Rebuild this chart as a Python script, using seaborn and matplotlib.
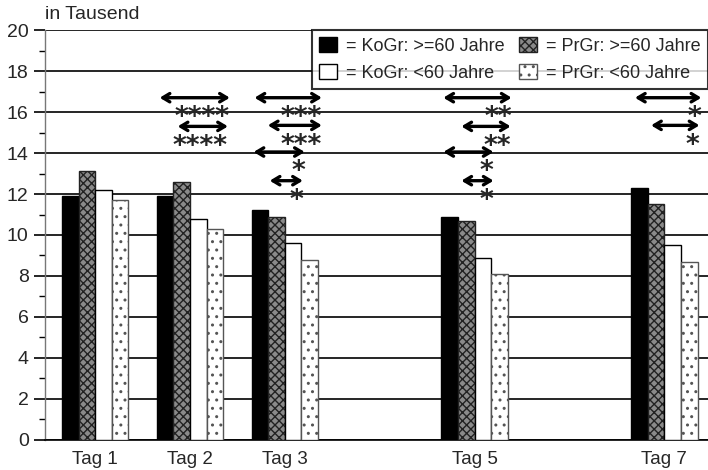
import pandas as pd
import seaborn as sns
import matplotlib.pyplot as plt
from matplotlib.patches import Patch

# Werte (in Tausend)
tage = [1, 2, 3, 5, 7]
tag_labels = ['Tag 1', 'Tag 2', 'Tag 3', 'Tag 5', 'Tag 7']
gruppen = ['KoGr: >=60 Jahre', 'PrGr: >=60 Jahre', 'KoGr: <60 Jahre', 'PrGr: <60 Jahre']
kogr_alt = [11.9, 11.9, 11.2, 10.9, 12.3]
prgr_alt = [13.1, 12.6, 10.9, 10.7, 11.5]
kogr_jung = [12.2, 10.8, 9.6, 8.9, 9.5]
prgr_jung = [11.7, 10.3, 8.8, 8.1, 8.7]

# Signifikanz-Pfeile: (x von, x bis, y, Sterne)
pfeil_von = [1.68, 1.87, 2.68, 2.82, 2.67, 2.84, 4.67, 4.86, 4.67, 4.86, 6.69, 6.86]
pfeil_bis = [2.42, 2.40, 3.39, 3.39, 3.21, 3.19, 5.39, 5.38, 5.20, 5.20, 7.39, 7.37]
pfeil_y = [16.7, 15.3, 16.7, 15.35, 14.05, 12.65, 16.7, 15.3, 14.05, 12.65, 16.7, 15.35]
sterne = ['****', '****', '***', '***', '*', '*', '**', '**', '*', '*', '*', '*']

werte = [kogr_alt, prgr_alt, kogr_jung, prgr_jung]
df = pd.DataFrame({
    'tag': tage * 4,
    'gruppe': [g for g in gruppen for _ in tage],
    'wert': [v for reihe in werte for v in reihe],
})

stile = {
    'KoGr: >=60 Jahre': dict(facecolor='black', hatch=None, edgecolor='black'),
    'PrGr: >=60 Jahre': dict(facecolor='#8a8a8a', hatch='xxxx', edgecolor='#222222'),
    'KoGr: <60 Jahre': dict(facecolor='white', hatch=None, edgecolor='black'),
    'PrGr: <60 Jahre': dict(facecolor='white', hatch='..', edgecolor='#555555'),
}

sns.set_style('white')
plt.rcParams['font.family'] = ['Liberation Sans', 'DejaVu Sans']
plt.rcParams['hatch.linewidth'] = 1.0

fig = plt.figure(figsize=(7.08, 4.7), dpi=100)
ax = fig.add_axes([0.064, 0.064, 0.936, 0.872])

sns.barplot(data=df, x='tag', y='wert', hue='gruppe', hue_order=gruppen,
            native_scale=True, width=0.7, palette=['black', '#8a8a8a', 'white', 'white'],
            edgecolor='black', linewidth=1, saturation=1, legend=False, ax=ax, zorder=3)

for container, g in zip(ax.containers, gruppen):
    for bar in container:
        bar.set_facecolor(stile[g]['facecolor'])
        bar.set_edgecolor(stile[g]['edgecolor'])
        if stile[g]['hatch']:
            bar.set_hatch(stile[g]['hatch'])

ax.set_xlim(0.475, 7.46)
ax.set_ylim(0, 20)
ax.set_yticks(range(0, 21, 2))
ax.set_yticks(range(1, 20, 2), minor=True)
ax.set_xticks(tage)
ax.set_xticklabels(tag_labels, fontsize=13.5)
ax.tick_params(axis='y', which='major', length=8, width=1.2, color='black', labelsize=14, pad=4, left=True)
ax.tick_params(axis='y', which='minor', length=4, width=1, color='black', left=True)
ax.tick_params(axis='x', length=0, pad=8)
ax.grid(axis='y', color='black', linewidth=1.2, zorder=0)
ax.set_axisbelow(True)
ax.set_xlabel('')
ax.set_ylabel('')
for s in ['top', 'right']:
    ax.spines[s].set_visible(False)
ax.spines['left'].set_color('#777777')
ax.spines['left'].set_linewidth(1)
ax.spines['bottom'].set_color('black')
ax.spines['bottom'].set_linewidth(1.2)

fig.text(0.064, 0.97, 'in Tausend', fontsize=14, va='center', ha='left')

for x0, x1, y, st in zip(pfeil_von, pfeil_bis, pfeil_y, sterne):
    ax.annotate('', xy=(x1, y), xytext=(x0, y),
                arrowprops=dict(arrowstyle='<->,head_length=0.5,head_width=0.3',
                                lw=2.4, color='black', shrinkA=0, shrinkB=0), zorder=5)
    ax.text(x1, y - 1.0, st, ha='right', va='center', fontsize=19,
            fontweight='bold', family='DejaVu Sans', zorder=5)

handles = [Patch(label='= ' + g, **{k: v for k, v in stile[g].items() if v is not None})
           for g in [gruppen[0], gruppen[2], gruppen[1], gruppen[3]]]
leg = ax.legend(handles=handles, ncol=2, loc='upper right', bbox_to_anchor=(1.0, 1.0),
                borderaxespad=0, fontsize=13, frameon=True, fancybox=False,
                handlelength=1.0, handleheight=0.9, handletextpad=0.5,
                columnspacing=0.8, labelspacing=0.5, borderpad=0.4)
leg.get_frame().set_edgecolor('black')
leg.get_frame().set_linewidth(1.5)
leg.set_zorder(6)

fig.savefig('out.png', dpi=100)
